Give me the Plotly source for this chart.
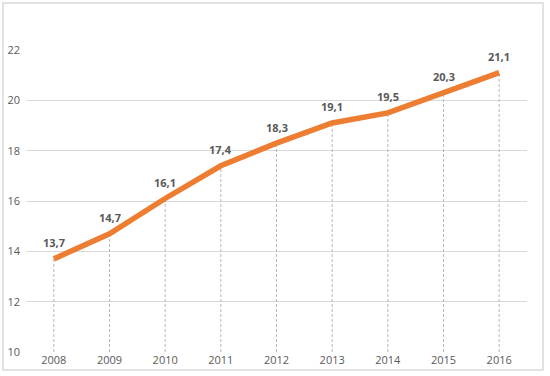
import plotly.graph_objects as go

years = ["2008", "2009", "2010", "2011", "2012", "2013", "2014", "2015", "2016"]
values = [13.7, 14.7, 16.1, 17.4, 18.3, 19.1, 19.5, 20.3, 21.1]
y_ticks = [10, 12, 14, 16, 18, 20, 22]
y_min = 10

labels = [f"{v:.1f}".replace(".", ",") for v in values]

drop_x, drop_y = [], []
for yr, v in zip(years, values):
    drop_x += [yr, yr, None]
    drop_y += [y_min, v, None]

fig = go.Figure()
fig.add_trace(go.Scatter(
    x=drop_x, y=drop_y, mode="lines",
    line=dict(color="#b8b8b8", width=1, dash="3px,2px"),
    hoverinfo="skip", showlegend=False,
))
fig.add_trace(go.Scatter(
    x=years, y=values, mode="lines",
    line=dict(color="#ED7D31", width=5.5),
    showlegend=False,
))

annotations = [
    dict(x=i, y=v, xref="x", yref="y", text=f"<b>{t}</b>", showarrow=False, yshift=16,
         font=dict(family="Open Sans, Liberation Sans, sans-serif", size=11, color="#595959"))
    for i, (v, t) in enumerate(zip(values, labels))
]

fig.update_layout(
    width=550, height=376,
    margin=dict(l=26, r=23, t=50, b=24),
    paper_bgcolor="white", plot_bgcolor="white",
    font=dict(family="Open Sans, Liberation Sans, sans-serif", size=11, color="#595959"),
    xaxis=dict(
        type="category", range=[-0.5, 8.5], showgrid=False, zeroline=False,
        showline=False, ticks="", automargin=False,
        tickfont=dict(size=11, color="#595959"),
    ),
    yaxis=dict(
        range=[10, 22], tickvals=y_ticks, showgrid=True, gridcolor="#d9d9d9",
        gridwidth=1, zeroline=False, showline=False, ticks="", automargin=False,
        tickfont=dict(size=11, color="#595959"), ticklabelstandoff=5,
    ),
    annotations=annotations,
    shapes=[dict(
        type="rect", xref="paper", yref="paper",
        x0=-0.046, x1=1.032, y0=-0.06, y1=1.156,
        line=dict(color="#d9d9d9", width=1.5), layer="below",
    )],
)
fig.write_html("out.html", config={"displayModeBar": False},
               post_script="document.body.style.margin='0';")
